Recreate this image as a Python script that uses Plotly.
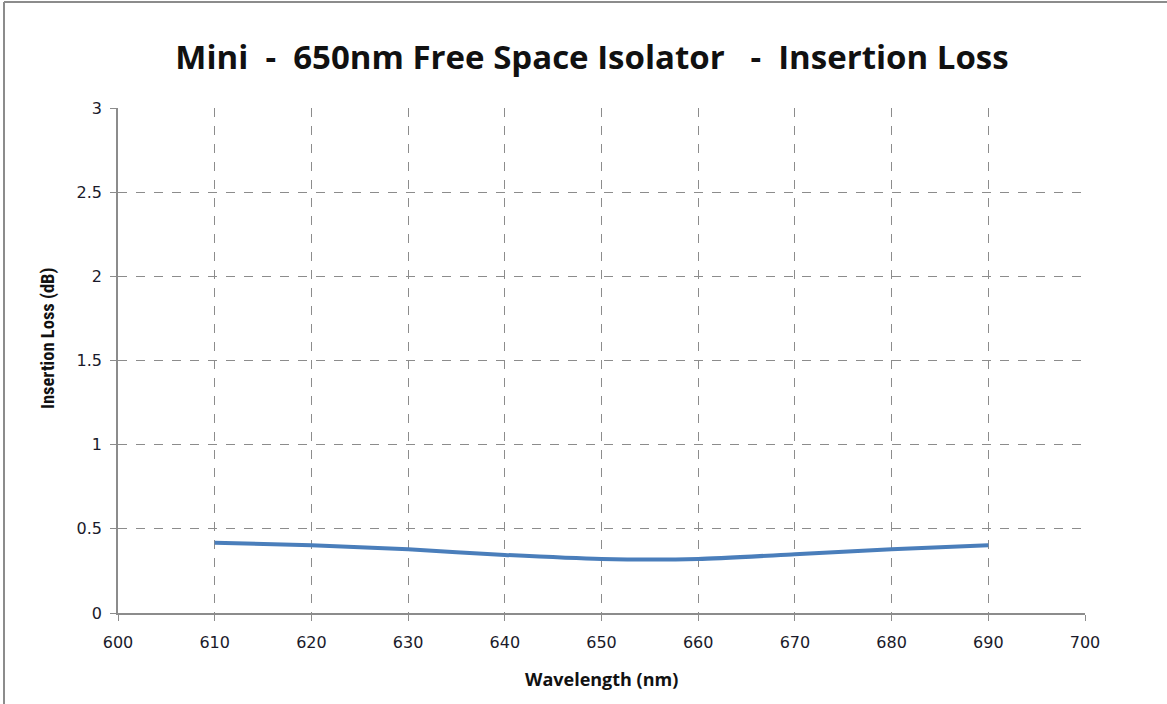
import plotly.graph_objects as go

wavelength_nm = [610, 620, 630, 640, 650, 660, 670, 680, 690]
insertion_loss_db = [0.418, 0.402, 0.378, 0.345, 0.321, 0.321, 0.349, 0.378, 0.402]

x_ticks = [600, 610, 620, 630, 640, 650, 660, 670, 680, 690, 700]
y_ticks = [0, 0.5, 1, 1.5, 2, 2.5, 3]
y_tick_labels = ["0", "0.5", "1", "1.5", "2", "2.5", "3"]

W, H = 1167, 704
L, R, T, B = 118, 82, 108, 91
pw, ph = W - L - R, H - T - B

def px(x):
    return (x - L) / pw

def py(y):
    return (H - B - y) / ph

fig = go.Figure()
fig.add_trace(go.Scatter(
    x=wavelength_nm, y=insertion_loss_db, mode="lines",
    line=dict(color="#4a7ebb", width=4, shape="spline", smoothing=0.6),
    showlegend=False, hoverinfo="x+y",
))

axis_common = dict(
    showline=True, linecolor="#8c8c8c", linewidth=1.5,
    showgrid=True, gridcolor="#8c8c8c", griddash="dash", gridwidth=1,
    ticks="outside", tickcolor="#8c8c8c", ticklen=6,
    tickfont=dict(family="DejaVu Sans, sans-serif", size=16, color="#1a1a2a"),
    zeroline=False, mirror=False,
)

fig.update_layout(
    width=W, height=H,
    margin=dict(l=L, r=R, t=T, b=B, autoexpand=False),
    paper_bgcolor="white", plot_bgcolor="white",
    title=dict(
        text="<b>Mini  -  650nm Free Space Isolator   -  Insertion Loss</b>",
        xref="container", yref="container",
        x=592 / W, xanchor="center", y=1 - 57 / H, yanchor="middle",
        font=dict(family="Open Sans, DejaVu Sans, sans-serif", size=33, color="#111111"),
    ),
    xaxis=dict(
        range=[600, 700], tickvals=x_ticks, ticktext=[str(v) for v in x_ticks],
        ticklabelstandoff=8,
        **axis_common,
    ),
    yaxis=dict(
        range=[0, 3], tickvals=y_ticks, ticktext=y_tick_labels,
        ticklabelstandoff=5,
        **axis_common,
    ),
    annotations=[
        dict(text="<b>Wavelength (nm)</b>", xref="paper", yref="paper",
             x=px(601), y=py(679), xanchor="center", yanchor="middle", showarrow=False,
             font=dict(family="Open Sans, DejaVu Sans, sans-serif", size=18, color="#111111")),
        dict(text="<b>Insertion Loss (dB)</b>", xref="paper", yref="paper",
             x=px(48), y=py(339), xanchor="center", yanchor="middle", showarrow=False,
             textangle=-90,
             font=dict(family="Liberation Sans Narrow, Roboto Condensed, Liberation Sans, sans-serif", size=18.5, color="#111111")),
    ],
    shapes=[
        dict(type="line", xref="paper", yref="paper",
             x0=px(4), x1=px(W), y0=py(2), y1=py(2),
             line=dict(color="#8c8c8c", width=2)),
        dict(type="line", xref="paper", yref="paper",
             x0=px(4), x1=px(4), y0=py(2), y1=py(H),
             line=dict(color="#8c8c8c", width=2)),
    ],
)

fig.write_html("out.html", config={"displayModeBar": False},
               post_script="document.body.style.margin='0px';document.body.style.overflow='hidden';")
